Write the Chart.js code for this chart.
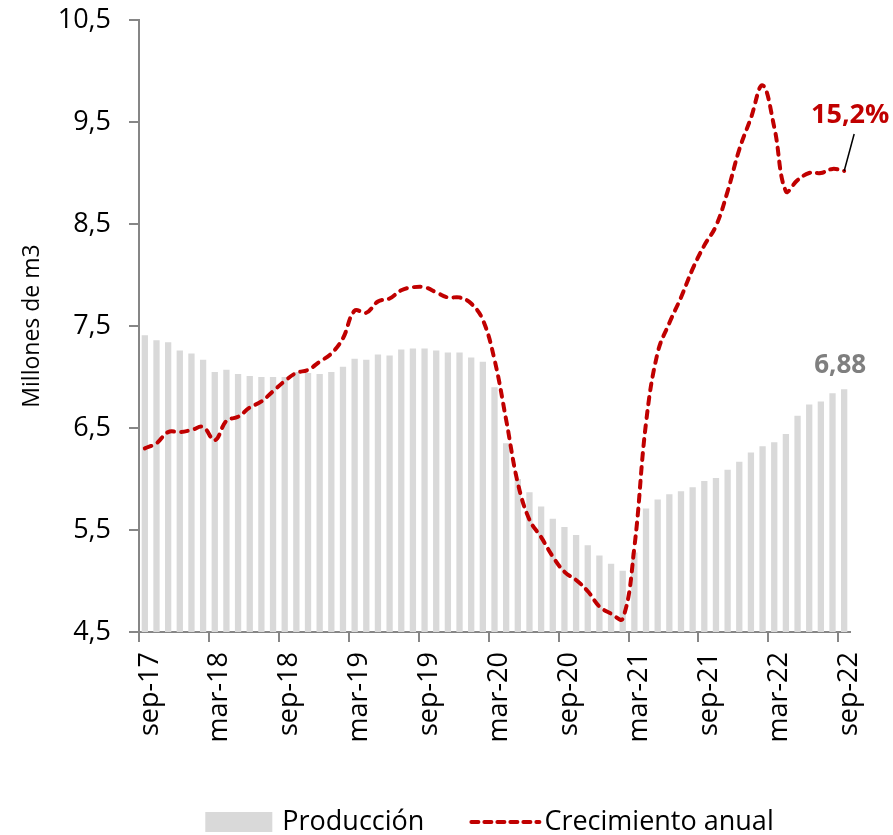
<!DOCTYPE html>
<html lang="es">

<head>
    <meta charset="UTF-8">
    <meta name="viewport" content="width=device-width, initial-scale=1.0">
    <title>Producción</title>
    <script src="https://cdn.jsdelivr.net/npm/chart.js"></script>
    <style>
        html, body { margin: 0; padding: 0; background: #fff; }
        #grafico { width: 893px; height: 835px; }
    </style>
</head>

<body>
    <div id="grafico">
        <canvas id="myChart"></canvas>
    </div>

    <script>
        const meses = [
            'sep-17', 'oct-17', 'nov-17', 'dic-17',
            'ene-18', 'feb-18', 'mar-18', 'abr-18', 'may-18', 'jun-18', 'jul-18', 'ago-18', 'sep-18', 'oct-18', 'nov-18', 'dic-18',
            'ene-19', 'feb-19', 'mar-19', 'abr-19', 'may-19', 'jun-19', 'jul-19', 'ago-19', 'sep-19', 'oct-19', 'nov-19', 'dic-19',
            'ene-20', 'feb-20', 'mar-20', 'abr-20', 'may-20', 'jun-20', 'jul-20', 'ago-20', 'sep-20', 'oct-20', 'nov-20', 'dic-20',
            'ene-21', 'feb-21', 'mar-21', 'abr-21', 'may-21', 'jun-21', 'jul-21', 'ago-21', 'sep-21', 'oct-21', 'nov-21', 'dic-21',
            'ene-22', 'feb-22', 'mar-22', 'abr-22', 'may-22', 'jun-22', 'jul-22', 'ago-22', 'sep-22'
        ];

        // millones de m3
        const produccion = [
            7.41, 7.36, 7.34, 7.26,
            7.23, 7.17, 7.05, 7.07, 7.03, 7.01, 7.00, 7.00, 7.00, 7.05, 7.04, 7.03,
            7.05, 7.10, 7.18, 7.17, 7.22, 7.21, 7.27, 7.28, 7.28, 7.26, 7.24, 7.24,
            7.19, 7.15, 6.90, 6.35, 6.00, 5.87, 5.73, 5.61, 5.53, 5.45, 5.35, 5.25,
            5.17, 5.10, 5.28, 5.71, 5.80, 5.85, 5.88, 5.92, 5.98, 6.01, 6.09, 6.17,
            6.26, 6.32, 6.36, 6.44, 6.62, 6.73, 6.76, 6.84, 6.88
        ];

        // % interanual
        const crecimiento = [
            -12.0, -11.5, -10.4, -10.4,
            -10.2, -9.9, -11.2, -9.3, -8.9, -8.0, -7.4, -6.4, -5.4, -4.6, -4.3, -3.5,
            -2.7, -1.2, 1.5, 1.3, 2.4, 2.7, 3.5, 3.8, 3.8, 3.3, 2.8, 2.8,
            2.2, 0.6, -3.3, -9.2, -15.4, -19.0, -20.7, -22.6, -24.1, -24.9, -26.0, -27.5,
            -28.2, -28.7, -21.7, -9.5, -2.6, 0.3, 2.8, 5.6, 7.9, 9.8, 13.2, 17.3,
            20.4, 23.6, 19.5, 13.2, 14.3, 15.0, 15.0, 15.4, 15.2
        ];

        const ticksY = [4.5, 5.5, 6.5, 7.5, 8.5, 9.5, 10.5];

        const fuente = "'Open Sans', sans-serif";
        const gris = '#D9D9D9';
        const rojo = '#C00000';
        const ejes = '#868686';

        const coma = (v, d) => v.toFixed(d).replace('.', ',');

        // etiquetas del último dato de cada serie
        const etiquetas = {
            id: 'etiquetas',
            afterDatasetsDraw(chart) {
                const ctx = chart.ctx;
                const n = produccion.length - 1;
                const barra = chart.getDatasetMeta(1).data[n];
                const punto = chart.getDatasetMeta(0).data[n];
                ctx.save();
                ctx.textAlign = 'center';
                ctx.textBaseline = 'alphabetic';

                ctx.font = 'bold 26px ' + fuente;
                ctx.fillStyle = '#7F7F7F';
                ctx.fillText(coma(produccion[n], 2), barra.x - 4, barra.y - 16);

                ctx.strokeStyle = '#000';
                ctx.lineWidth = 1.5;
                ctx.beginPath();
                ctx.moveTo(punto.x, punto.y);
                ctx.lineTo(punto.x + 10, punto.y - 37);
                ctx.stroke();

                ctx.font = 'bold 27px ' + fuente;
                ctx.fillStyle = rojo;
                ctx.fillText(coma(crecimiento[n], 1) + '%', punto.x + 6, punto.y - 48);
                ctx.restore();
            }
        };

        // leyenda dibujada a mano: caja gris y línea discontinua
        const leyenda = {
            id: 'leyenda',
            afterDraw(chart) {
                const { ctx, chartArea } = chart;
                const y = chart.height - 13;
                const t1 = 'Producción', t2 = 'Crecimiento anual';
                ctx.save();
                ctx.font = '27px ' + fuente;
                const w1 = ctx.measureText(t1).width;
                const w2 = ctx.measureText(t2).width;
                const total = 67 + 10 + w1 + 45 + 70 + 5 + w2;
                let x = (chartArea.left + chartArea.right) / 2 - total / 2 - 5;

                ctx.fillStyle = gris;
                ctx.fillRect(x, y - 10, 67, 20);
                x += 77;
                ctx.fillStyle = '#000';
                ctx.textBaseline = 'middle';
                ctx.fillText(t1, x, y);
                x += w1 + 45;

                ctx.strokeStyle = rojo;
                ctx.lineWidth = 4;
                ctx.lineCap = 'round';
                ctx.setLineDash([7, 6]);
                ctx.beginPath();
                ctx.moveTo(x + 2, y);
                ctx.lineTo(x + 70, y);
                ctx.stroke();
                ctx.setLineDash([]);
                x += 75;
                ctx.fillText(t2, x, y);
                ctx.restore();
            }
        };

        const ctx = document.getElementById('myChart');
        const myChart = new Chart(ctx, {
            type: 'bar',
            data: {
                labels: meses,
                datasets: [
                    {
                        type: 'line',
                        label: 'Crecimiento anual',
                        data: crecimiento,
                        yAxisID: 'y2',
                        borderColor: rojo,
                        borderWidth: 4,
                        borderDash: [7, 7],
                        borderCapStyle: 'round',
                        pointRadius: 0,
                        tension: 0.4,
                        fill: false
                    },
                    {
                        label: 'Producción',
                        data: produccion,
                        yAxisID: 'y',
                        backgroundColor: gris,
                        barPercentage: 0.54,
                        categoryPercentage: 1
                    }
                ]
            },
            options: {
                responsive: true,
                maintainAspectRatio: false,
                animation: false,
                layout: { padding: { top: 20, right: 43, bottom: 0, left: 0 } },
                plugins: {
                    legend: { display: false },
                    tooltip: { enabled: false }
                },
                scales: {
                    x: {
                        offset: true,
                        afterFit: s => { s.height = 203; },
                        border: { color: ejes, width: 2 },
                        grid: {
                            offset: true,
                            drawOnChartArea: false,
                            tickLength: 10,
                            lineWidth: 2,
                            tickColor: c => (c.index % 6 === 0 ? ejes : 'rgba(0,0,0,0)')
                        },
                        ticks: {
                            autoSkip: false,
                            minRotation: 90,
                            maxRotation: 90,
                            padding: 10,
                            labelOffset: 5,
                            color: '#000',
                            font: { family: fuente, size: 27 },
                            callback: (v, i) => (i % 6 === 0 ? meses[i] : '')
                        }
                    },
                    y: {
                        min: 4.5,
                        max: 10.5,
                        afterFit: s => {
                            s.width = 139;
                            s.paddingTop = 0;
                            s.paddingBottom = 0;
                        },
                        afterBuildTicks: s => { s.ticks = ticksY.map(v => ({ value: v })); },
                        border: { color: ejes, width: 2 },
                        grid: { drawOnChartArea: false, tickLength: 10, lineWidth: 2, color: ejes },
                        ticks: {
                            padding: 18,
                            color: '#000',
                            font: { family: fuente, size: 27 },
                            callback: v => coma(v, 1)
                        },
                        title: {
                            display: true,
                            text: 'Millones de m3',
                            color: '#000',
                            padding: { top: 19, bottom: 0 },
                            font: { family: fuente, size: 23 }
                        }
                    },
                    y2: {
                        display: false,
                        min: -30,
                        max: 30
                    }
                }
            },
            plugins: [etiquetas, leyenda]
        });
    </script>
</body>

</html>
